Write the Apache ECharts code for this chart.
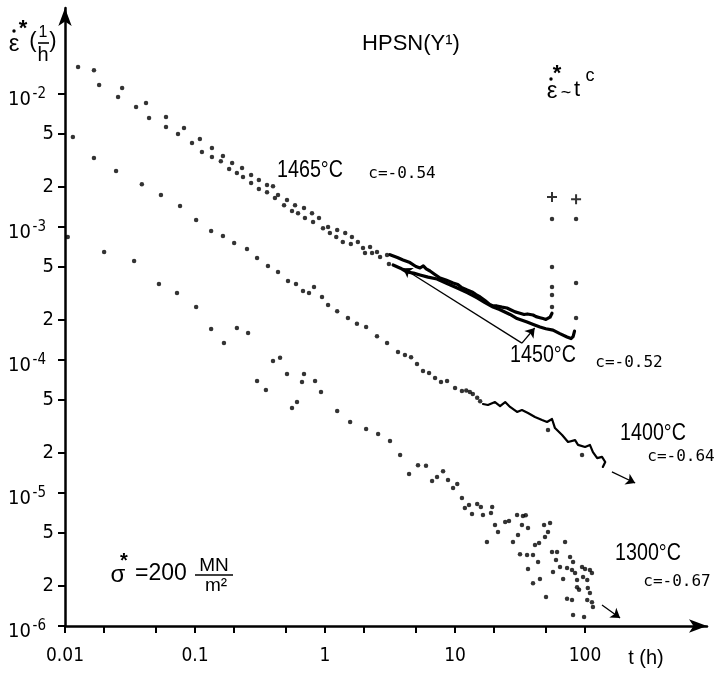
<!DOCTYPE html>
<html><head><meta charset="utf-8">
<script src="https://cdn.jsdelivr.net/npm/echarts@6/dist/echarts.min.js"></script>
<style>html,body{margin:0;padding:0;background:#fff}#c{width:715px;height:674px}</style>
</head><body><div id="c"></div><script>
// ---------- data (t in h, creep rate in 1/h) ----------
const xTicks = [0.01,0.02,0.05,0.1,0.2,0.5,1,2,5,10,20,50,100];
const xLabelValues = [0.01,0.1,1,10,100];
const xTickLabels = ['0.01','0.1','1','10','100'];
const yTicks = [1e-6,2e-6,5e-6,1e-5,2e-5,5e-5,1e-4,2e-4,5e-4,1e-3,2e-3,5e-3,1e-2];
const yMantissaValues = [2e-6,5e-6,2e-5,5e-5,2e-4,5e-4,2e-3,5e-3];
const yMantissaLabels = ['2','5','2','5','2','5','2','5'];
const yPowerValues = [1e-6,1e-5,1e-4,1e-3,1e-2];
const yPowerBase = '10';
const yPowerExponents = ['-6','-5','-4','-3','-2'];

const r1465Dots = [[0.0126,1.60e-2],[0.0167,1.51e-2],[0.0275,1.11e-2],[0.042,8.55e-3],[0.0823,5.55e-3],[0.109,4.59e-3],[0.135,3.93e-3],[0.164,3.42e-3],[0.193,3.03e-3],[0.23,2.78e-3],[0.27,2.46e-3],[0.31,2.26e-3],[0.358,2.07e-3],[0.398,2.03e-3],[0.435,1.74e-3],[0.51,1.60e-3],[0.588,1.46e-3],[0.689,1.39e-3],[0.794,1.27e-3],[0.899,1.17e-3],[1.055,1.0e-3],[1.24,9.5e-4],[1.43,9.02e-4],[1.61,8.41e-4],[1.79,7.71e-4],[2.22,7.08e-4],[2.51,6.49e-4],[3.0,6.16e-4]];
const r1465Trace = [[3.16,6.2e-4],[3.6,5.9e-4],[3.98,5.65e-4],[4.5,5.4e-4],[5.0,5.05e-4],[5.38,4.92e-4],[5.7,5.1e-4],[6.0,4.85e-4],[6.42,4.67e-4],[7.0,4.4e-4],[7.67,4.14e-4],[8.5,4.0e-4],[9.66,3.79e-4],[10.5,3.7e-4],[11.3,3.5e-4],[12.4,3.36e-4],[13.5,3.25e-4],[14.5,3.1e-4],[15.6,2.98e-4],[17,2.8e-4],[18.5,2.62e-4],[19.6,2.55e-4],[21,2.55e-4],[23,2.5e-4],[25.1,2.46e-4],[27,2.38e-4],[29,2.3e-4],[31.6,2.25e-4],[34,2.2e-4],[36,2.22e-4],[39.8,2.18e-4],[42,2.12e-4],[45,2.08e-4],[47.5,2.05e-4],[50,2.02e-4],[53.8,2.1e-4],[55.7,2.25e-4]];
const r1465Rise = [[55.7,2.5e-4],[55.7,3.08e-4],[55.7,3.54e-4],[55.7,5.0e-4],[55.7,1.15e-3]];
const r1465Fail = [[55.7,1.68e-3]];

const r1450Dots = [[0.0183,1.17e-2],[0.0256,9.49e-3],[0.0352,7.98e-3],[0.0443,6.6e-3],[0.0598,6.71e-3],[0.0598,5.65e-3],[0.074,5.0e-3],[0.0948,4.28e-3],[0.113,3.67e-3],[0.135,3.36e-3],[0.158,3.13e-3],[0.183,2.73e-3],[0.21,2.55e-3],[0.234,2.38e-3],[0.27,2.14e-3],[0.31,1.93e-3],[0.358,1.83e-3],[0.412,1.65e-3],[0.484,1.46e-3],[0.557,1.32e-3],[0.62,1.27e-3],[0.701,1.17e-3],[0.809,1.09e-3],[0.965,9.8e-4],[1.09,9.02e-4],[1.22,8.41e-4],[1.37,7.71e-4],[1.58,7.45e-4],[1.96,6.95e-4],[2.03,6.38e-4],[2.3,6.38e-4],[2.65,5.94e-4],[3.1,5.27e-4]];
const r1450Trace = [[3.34,5.18e-4],[3.8,4.9e-4],[4.27,4.59e-4],[4.8,4.5e-4],[5.38,4.36e-4],[6.2,4.2e-4],[7.27,4.07e-4],[8.5,3.8e-4],[10.4,3.48e-4],[12.5,3.2e-4],[14.8,2.93e-4],[17,2.7e-4],[19.6,2.5e-4],[22,2.4e-4],[26.5,2.2e-4],[30,2.05e-4],[35.8,1.93e-4],[40,1.85e-4],[45,1.77e-4],[50,1.72e-4],[56.7,1.68e-4],[64,1.58e-4],[72.7,1.49e-4],[78,1.45e-4],[80.9,1.5e-4],[83,1.65e-4]];
const r1450Rise = [[85.3,2.07e-4],[85.3,3.79e-4],[85.3,1.15e-3]];
const r1450Fail = [[85.3,1.62e-3]];

const r1400Dots = [[0.0115,4.75e-3],[0.0167,3.3e-3],[0.0247,2.64e-3],[0.039,2.1e-3],[0.0547,1.74e-3],[0.0767,1.44e-3],[0.102,1.13e-3],[0.133,9.33e-4],[0.164,8.55e-4],[0.2,7.58e-4],[0.251,6.84e-4],[0.3,5.85e-4],[0.364,5.09e-4],[0.435,4.59e-4],[0.519,3.93e-4],[0.598,3.73e-4],[0.677,3.3e-4],[0.753,3.19e-4],[0.823,3.54e-4],[0.948,2.98e-4],[1.055,2.59e-4],[1.24,2.33e-4],[1.5,2.07e-4],[1.76,1.87e-4],[2.07,1.77e-4],[2.51,1.51e-4],[3.0,1.34e-4],[3.64,1.15e-4],[4.12,1.09e-4],[4.59,1.05e-4],[5.1,9.33e-5],[5.67,8.26e-5],[6.31,7.98e-5],[7.02,7.32e-5],[7.8,6.84e-5],[8.68,6.95e-5],[10,6.16e-5],[11.3,5.85e-5],[12.2,5.9e-5],[13.0,5.74e-5],[13.7,5.55e-5],[14.8,5.2e-5],[15.6,4.9e-5],[51.9,2.98e-5],[94.8,1.93e-5]];
const r1400Trace = [[16.4,4.67e-5],[17.9,4.59e-5],[20.3,4.83e-5],[22.2,4.51e-5],[24.3,4.83e-5],[26.5,4.44e-5],[30.0,4.07e-5],[32.7,4.21e-5],[36.4,4.0e-5],[41.2,3.73e-5],[46.7,3.54e-5],[51,3.42e-5],[55.7,3.6e-5],[58.7,3.08e-5],[66.6,2.73e-5],[74.0,2.42e-5],[83.8,2.5e-5],[88.3,2.3e-5],[100,2.22e-5],[109,2.3e-5],[115,2.03e-5],[124,1.83e-5],[135,1.87e-5],[143,1.71e-5],[137,1.57e-5]];

const r1300Dots = [[0.0105,8.4e-4],[0.02,6.5e-4],[0.034,5.55e-4],[0.0528,3.73e-4],[0.0727,3.19e-4],[0.102,2.5e-4],[0.133,1.71e-4],[0.167,1.34e-4],[0.21,1.74e-4],[0.256,1.6e-4],[0.3,6.95e-5],[0.351,5.94e-5],[0.398,9.83e-5],[0.451,1.04e-4],[0.51,7.85e-5],[0.557,4.36e-5],[0.609,4.83e-5],[0.665,6.84e-5],[0.689,7.85e-5],[0.838,6.95e-5],[0.931,5.74e-5],[1.24,4.14e-5],[1.56,3.42e-5],[2.07,3.03e-5],[2.56,2.78e-5],[3.16,2.46e-5],[3.78,1.93e-5],[4.43,1.39e-5],[5.19,1.62e-5],[5.98,1.6e-5],[6.66,1.23e-5],[7.27,1.32e-5],[8.09,1.46e-5],[8.83,1.25e-5],[9.66,1.09e-5],[10.4,1.17e-5],[11.3,9.16e-6],[11.9,7.71e-6],[12.8,8.13e-6],[13.5,6.96e-6],[14.8,8.27e-6],[15.8,7.85e-6],[16.4,6.84e-6],[17.6,4.28e-6],[18.9,7.07e-6],[19.3,7.85e-6],[20.3,5.74e-6],[21.4,5.09e-6],[24.3,6.05e-6],[26.0,6.16e-6],[27.9,4.28e-6],[30.0,6.84e-6],[30.5,4.83e-6],[31.6,3.47e-6],[32.7,5.74e-6],[33.3,6.72e-6],[35.0,6.8e-6],[35.8,3.42e-6],[36.4,5.45e-6],[36.4,2.68e-6],[39.8,3.42e-6],[39.8,2.1e-6],[41.2,4.06e-6],[43.5,3.03e-6],[44.3,4.21e-6],[45.0,2.26e-6],[48.4,5.74e-6],[49.2,4.67e-6],[50.1,1.65e-6],[51.9,5.09e-6],[53.8,5.95e-6],[55.7,3.6e-6],[56.7,2.55e-6],[59.8,3.13e-6],[60.9,3.6e-6],[64.2,2.78e-6],[67.8,2.26e-6],[70.2,4.28e-6],[72.7,2.73e-6],[72.7,1.6e-6],[76.7,3.3e-6],[79.4,2.64e-6],[79.4,1.57e-6],[80.9,3.03e-6],[80.9,1.21e-6],[83.8,2.5e-6],[86.8,2.22e-6],[86.8,1.96e-6],[89.9,1.87e-6],[94.8,2.78e-6],[96.5,2.34e-6],[98.3,1.17e-6],[100,2.68e-6],[104,2.22e-6],[104,1.57e-6],[105,1.93e-6],[109,2.64e-6],[109,1.77e-6],[113,2.5e-6],[113,1.51e-6],[115,1.39e-6]];

// pointer / direction arrows: [from, to] in data units
const arrows = [
  [[32.7,1.34e-4],[3.98,4.9e-4]],
  [[32.7,1.34e-4],[41,1.74e-4]],
  [[161,1.44e-5],[243,1.19e-5]],
  [[135,1.44e-6],[186,1.15e-6]]
];

// ---------- chart ----------
const INK = '#000';
const NARROW = "'Liberation Sans Narrow','DejaVu Sans Condensed','Liberation Sans',sans-serif";
const SANS = "'Liberation Sans','DejaVu Sans',sans-serif";
const MONO = "'DejaVu Sans Mono',monospace";
const L = Math.log10;
const toXY = a => a.map(p => [L(p[0]), L(p[1])]);
const near = (arr, v) => arr.findIndex(t => Math.abs(L(t) - v) < 1e-6);

const dots = (d) => ({type:'scatter', data: toXY(d), symbol:'circle', symbolSize: 4.5,
  itemStyle:{color:INK}, silent:true, z:3});
const trace = (d, w) => ({type:'line', data: toXY(d), symbol:'none', showSymbol:false,
  lineStyle:{color:INK, width:w, join:'round', cap:'round'}, silent:true, z:3});
const PLUS = 'path://M4,0H6V4H10V6H6V10H4V6H0V4H4Z';
const fail = d => ({type:'scatter', data: toXY(d), symbol: PLUS, symbolSize: 10, itemStyle:{color:INK}, silent:true, z:4});

const txt = (text, x, y, font, extra) => Object.assign({type:'text', x, y, silent:true,
  style:{text, font, fill:INK, align:'center', verticalAlign:'middle'}}, extra || {});
const SQ = {scaleX:0.82};

const yBase = {type:'value', min:-6, max:-1.353, position:'left', splitLine:{show:false}};
const chart = echarts.init(document.getElementById('c'), null, {renderer:'canvas'});
chart.setOption({
  animation:false,
  backgroundColor:'#fff',
  grid:{left:65, right:8, top:8, bottom:48, containLabel:false},
  xAxis:{type:'value', min:-2, max:2.938,
    axisLine:{show:true, onZero:false, lineStyle:{color:INK, width:2.5}, symbol:['none','arrow'], symbolSize:[10,18]},
    axisTick:{show:true, customValues: xTicks.map(L), length:7, lineStyle:{color:INK, width:2}},
    axisLabel:{show:true, customValues: xLabelValues.map(L), margin:21, color:INK, fontFamily:NARROW, fontSize:19,
      formatter: v => xTickLabels[near(xLabelValues, v)]},
    splitLine:{show:false}},
  yAxis:[
    Object.assign({}, yBase, {
      axisLine:{show:true, onZero:false, lineStyle:{color:INK, width:2.5}, symbol:['none','arrow'], symbolSize:[10,18]},
      axisTick:{show:true, customValues: yTicks.map(L), length:7, lineStyle:{color:INK, width:2}},
      axisLabel:{show:true, customValues: yMantissaValues.map(L), margin:11, color:INK, fontFamily:NARROW, fontSize:20,
        formatter: v => yMantissaLabels[near(yMantissaValues, v)]}}),
    Object.assign({}, yBase, {
      axisLine:{show:false}, axisTick:{show:false},
      axisLabel:{show:true, customValues: yPowerValues.map(L), margin:34, color:INK, fontFamily:NARROW, fontSize:20,
        verticalAlign:'top', lineHeight:12, formatter: () => yPowerBase}}),
    Object.assign({}, yBase, {
      axisLine:{show:false}, axisTick:{show:false},
      axisLabel:{show:true, customValues: yPowerValues.map(L), margin:19, color:INK, fontFamily:NARROW, fontSize:15,
        verticalAlign:'middle', formatter: v => yPowerExponents[near(yPowerValues, v)]}})
  ],
  series:[
    dots(r1465Dots), trace(r1465Trace, 3.2), dots(r1465Rise), fail(r1465Fail),
    dots(r1450Dots), trace(r1450Trace, 3.2), dots(r1450Rise), fail(r1450Fail),
    dots(r1400Dots), trace(r1400Trace, 2.2),
    dots(r1300Dots),
    {type:'line', data:[], silent:true,
      markLine:{silent:true, animation:false, symbol:['none','arrow'], symbolSize:9,
        lineStyle:{color:INK, width:1.3, type:'solid'}, label:{show:false},
        data: arrows.map(a => [{coord:[L(a[0][0]), L(a[0][1])]}, {coord:[L(a[1][0]), L(a[1][1])]}])}}
  ],
  graphic:[
    // y-axis name
    txt('\u03B5', 14, 44, '24px ' + SANS),
    {type:'circle', silent:true, shape:{cx:14, cy:31, r:1.7}, style:{fill:INK}},
    txt('*', 23, 29, 'bold 22px ' + SANS),
    txt('(', 33, 41, '22px ' + SANS),
    txt('1', 43, 33, '16px ' + SANS),
    {type:'line', silent:true, shape:{x1:38, y1:43, x2:49, y2:43}, style:{stroke:INK, lineWidth:1.6}},
    txt('h', 43, 55, '20px ' + SANS),
    txt(')', 53, 41, '22px ' + SANS),
    // title and law
    txt('HPSN(Y\u00B9)', 411, 44, '22px ' + SANS),
    txt('\u03B5', 552, 91, '24px ' + SANS),
    {type:'circle', silent:true, shape:{cx:551, cy:79, r:1.7}, style:{fill:INK}},
    txt('*', 557, 74, 'bold 22px ' + SANS),
    txt('~', 566, 93, '18px ' + SANS),
    txt('t', 577, 90, '22px ' + SANS),
    txt('c', 590, 76, '18px ' + SANS),
    // curve labels
    txt('1465\u00B0C', 310, 170, '24px ' + SANS, SQ),
    txt('c=-0.54', 402, 174, '16px ' + MONO),
    txt('1450\u00B0C', 543, 355, '24px ' + SANS, SQ),
    txt('c=-0.52', 629, 363, '16px ' + MONO),
    txt('1400\u00B0C', 653, 433, '24px ' + SANS, SQ),
    txt('c=-0.64', 681, 457, '16px ' + MONO),
    txt('1300\u00B0C', 648, 553, '24px ' + SANS, SQ),
    txt('c=-0.67', 677, 582, '16px ' + MONO),
    // stress
    txt('\u03C3', 118, 575, '24px ' + SANS),
    txt('*', 124, 561, 'bold 20px ' + SANS),
    txt('=200', 161, 574, '23px ' + SANS),
    txt('MN', 214, 566, '19px ' + SANS),
    {type:'line', silent:true, shape:{x1:195, y1:575, x2:233, y2:575}, style:{stroke:INK, lineWidth:1.6}},
    txt('m\u00B2', 216, 586, '19px ' + SANS),
    // x-axis name
    txt('t (h)', 646, 658, '20px ' + SANS)
  ]
});
</script></body></html>
